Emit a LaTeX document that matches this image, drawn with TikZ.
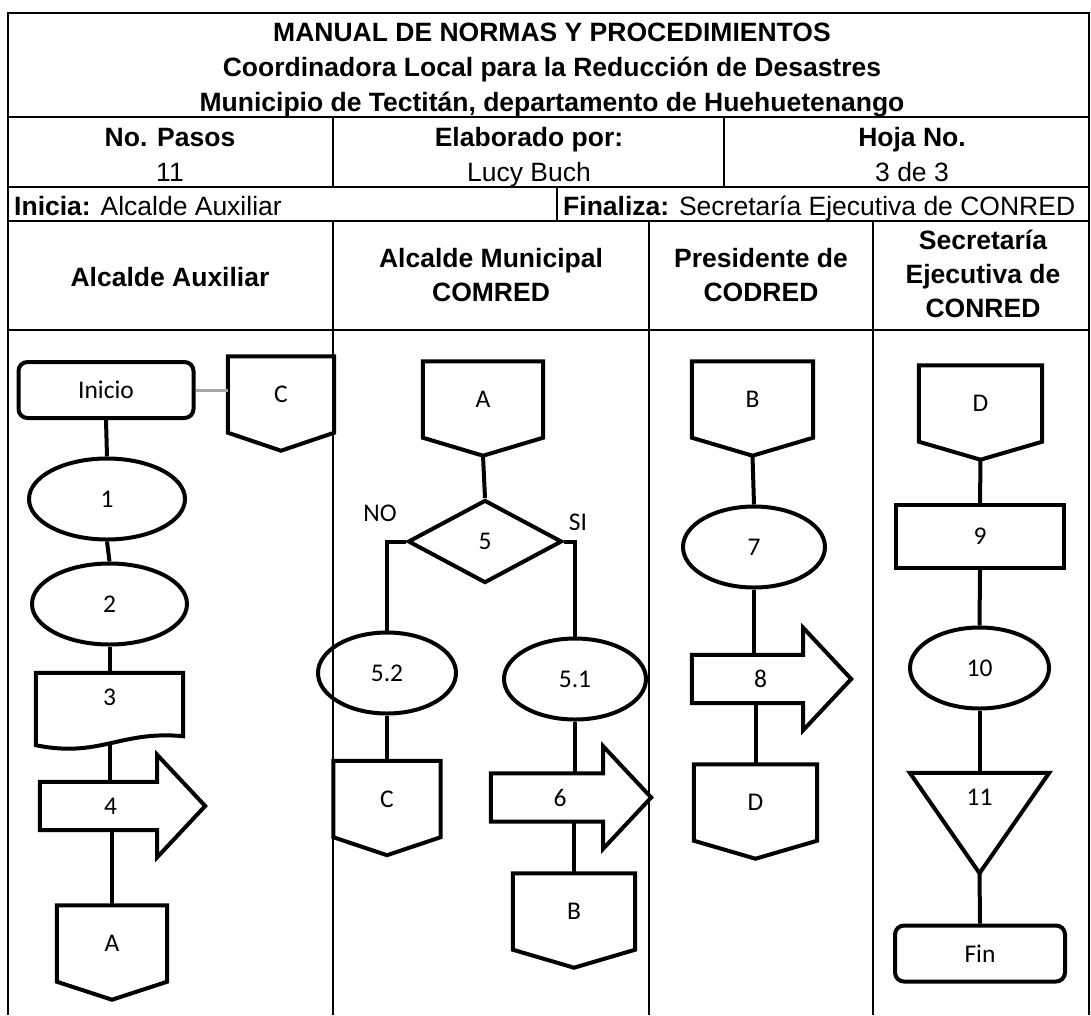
\documentclass[tikz,border=0pt]{standalone}
\usepackage{fontspec}
\setmainfont{Liberation Sans}
\newfontfamily\calibri{Carlito}
\usetikzlibrary{shapes.geometric}

\begin{document}
\begin{tikzpicture}[
    x=1pt, y=-1pt,
    tbl/.style={line width=2pt},
    shp/.style={line width=4pt},
    link/.style={line width=4pt},
    lbl/.style={font=\calibri\fontsize{25.5}{30}\selectfont},
    hdr/.style={font=\bfseries\fontsize{26.5}{34}\selectfont, align=center},
    one/.style={text height=19pt, text depth=0pt, inner sep=0pt},
    txt/.style={one, font=\fontsize{26.5}{30}\selectfont},
    bld/.style={one, font=\bfseries\fontsize{26.5}{30}\selectfont},
    term/.style={lbl, draw, shp, rounded corners=9pt, minimum width=#1, minimum height=56pt},
    proc/.style={lbl, draw, shp, ellipse, minimum width=#1, minimum height=81pt, inner sep=0pt},
    conn/.style={lbl, minimum width=#1, minimum height=76pt, inner sep=0pt},
    arr/.style={minimum width=#1, minimum height=48pt, inner sep=0pt}
  ]
  \useasboundingbox (0,0) rectangle (1091,1015);

  % table
  \draw[tbl] (8,1015) -- (8,13) -- (1089,13) -- (1089,1015);
  \foreach \y in {117,187,221,330}
    \draw[tbl] (8,\y) -- (1089,\y);
  \draw[tbl] (333,117) -- (333,187) (724,117) -- (724,187) (557,187) -- (557,221);
  \foreach \x in {333,649,873}
    \draw[tbl] (\x,221) -- (\x,1015);

  \node[bld] (title1) at (552,32) {MANUAL DE NORMAS Y PROCEDIMIENTOS};
  \node[bld] (title2) at (552,67) {Coordinadora Local para la Reducción de Desastres};
  \node[bld] (title3) at (552,102) {Municipio de Tectitán, departamento de Huehuetenango};
  \node[bld] (pasos) at (170,137) {No. Pasos};
  \node[txt] (npasos) at (170,172) {11};
  \node[bld] (elab) at (529,137) {Elaborado por:};
  \node[txt] (autor) at (529,172) {Lucy Buch};
  \node[bld] (hoja) at (912,137) {Hoja No.};
  \node[txt] (nhoja) at (912,172) {3 de 3};
  \node[txt, anchor=west] (inicia) at (14,206) {\textbf{Inicia:} Alcalde Auxiliar};
  \node[txt, anchor=west] (finaliza) at (563,206) {\textbf{Finaliza:} Secretaría Ejecutiva de CONRED};
  \node[bld] (lane1) at (170,277) {Alcalde Auxiliar};
  \node[hdr] (lane2) at (491,275) {Alcalde Municipal\\COMRED};
  \node[hdr] (lane3) at (761,275) {Presidente de\\CODRED};
  \node[hdr] (lane4) at (983,274) {Secretaría\\Ejecutiva de\\CONRED};

  % Alcalde Auxiliar
  \node[term=175pt] (ini) at (106,390) {Inicio};
  \node[conn=106pt] (c1) at (281,394.5) {C};
  \node[proc=156pt] (s1) at (107,499) {1};
  \node[proc=155pt] (s2) at (109.5,604) {2};
  \node[lbl, minimum width=147pt, minimum height=48pt, inner sep=0pt] (p3) at (109.5,697) {3};
  \node[arr=117pt, label={[lbl, xshift=12pt]center:4}] (s4) at (98.5,806) {};
  \node[conn=110pt] (a1) at (112,943.5) {A};

  % Alcalde Municipal
  \node[conn=120pt] (a2) at (483,399.5) {A};
  \node[lbl, draw, shp, diamond, minimum width=154pt, minimum height=83pt, inner sep=0pt] (d5) at (485,541.5) {5};
  \node[lbl] (no) at (380,513) {NO};
  \node[lbl] (si) at (578,522) {SI};
  \node[proc=138pt] (s52) at (387,673) {5.2};
  \node[proc=142pt] (s51) at (575,679) {5.1};
  \node[conn=107pt] (c2) at (387,799) {C};
  \node[arr=112pt, label={[lbl, xshift=13pt]center:6}] (s6) at (547,797.5) {};
  \node[conn=122pt] (b2) at (574,911.5) {B};

  % Presidente
  \node[conn=121pt] (b3) at (752.5,399.5) {B};
  \node[proc=142pt] (s7) at (754,547) {7};
  \node[arr=111pt, label={[lbl, xshift=13pt]center:8}] (s8) at (747.5,679) {};
  \node[conn=123pt] (d3) at (755.5,802.5) {D};

  % Secretaria
  \node[conn=123pt] (d4) at (980.5,403.5) {D};
  \node[lbl, draw, shp, minimum width=168pt, minimum height=63pt] (s9) at (980,536.5) {9};
  \node[proc=139pt] (s10) at (979.5,668) {10};
  \node[minimum width=139pt, minimum height=100pt, inner sep=0pt,
        label={[lbl, yshift=26pt]center:11}] (s11) at (979.5,823) {};
  \node[term=170pt] (fin) at (980,953.5) {Fin};

  % outlines
  \foreach \n in {c1,a1,a2,c2,b2,b3,d3,d4}
    \draw[shp] (\n.north west) -- (\n.north east) -- (\n.south east)
      -- ([yshift=-18pt]\n.south) -- (\n.south west) -- cycle;
  \foreach \n in {s4,s6,s8}
    \draw[shp] (\n.north west) -- (\n.north east) -- ([yshift=27pt]\n.north east)
      -- ([xshift=48pt]\n.east) -- ([yshift=-27pt]\n.south east)
      -- (\n.south east) -- (\n.south west) -- cycle;
  \draw[shp] (s11.north west) -- (s11.north east) -- (s11.south) -- cycle;
  \draw[shp] (p3.north west) -- (p3.north east) -- ([yshift=-15pt]p3.south east)
    .. controls ([xshift=-63pt,yshift=-9pt]p3.south east)
    and ([xshift=64pt,yshift=-37pt]p3.south west) .. ([yshift=-24pt]p3.south west) -- cycle;

  % connectors
  \draw[link, gray!70, line width=3pt] (ini.east) -- (ini.east -| c1.west);
  \draw[link] (ini.south) -- (s1.north);
  \draw[link] (s1.south) -- (s2.north);
  \draw[link] (s2.south) -- (p3.north);
  \draw[link] ([yshift=-23pt]p3.south) -- (p3.south |- s4.north);
  \draw[link] (a1.north |- s4.south) -- (a1.north);
  \draw[link] ([yshift=-18pt]a2.south) -- (d5.north);
  \draw[link] (d5.west) -| (s52.north);
  \draw[link] (d5.east) -| (s51.north);
  \draw[link] (s52.south) -- (c2.north);
  \draw[link] (s51.south) -- (s51.south |- s6.north);
  \draw[link] (b2.north |- s6.south) -- (b2.north);
  \draw[link] ([yshift=-18pt]b3.south) -- (s7.north);
  \draw[link] (s7.south) -- (s7.south |- s8.north);
  \draw[link] (d3.north |- s8.south) -- (d3.north);
  \draw[link] ([yshift=-18pt]d4.south) -- (s9.north);
  \draw[link] (s9.south) -- (s10.north);
  \draw[link] (s10.south) -- (s11.north);
  \draw[link] (s11.south) -- (fin.north);
\end{tikzpicture}
\end{document}
